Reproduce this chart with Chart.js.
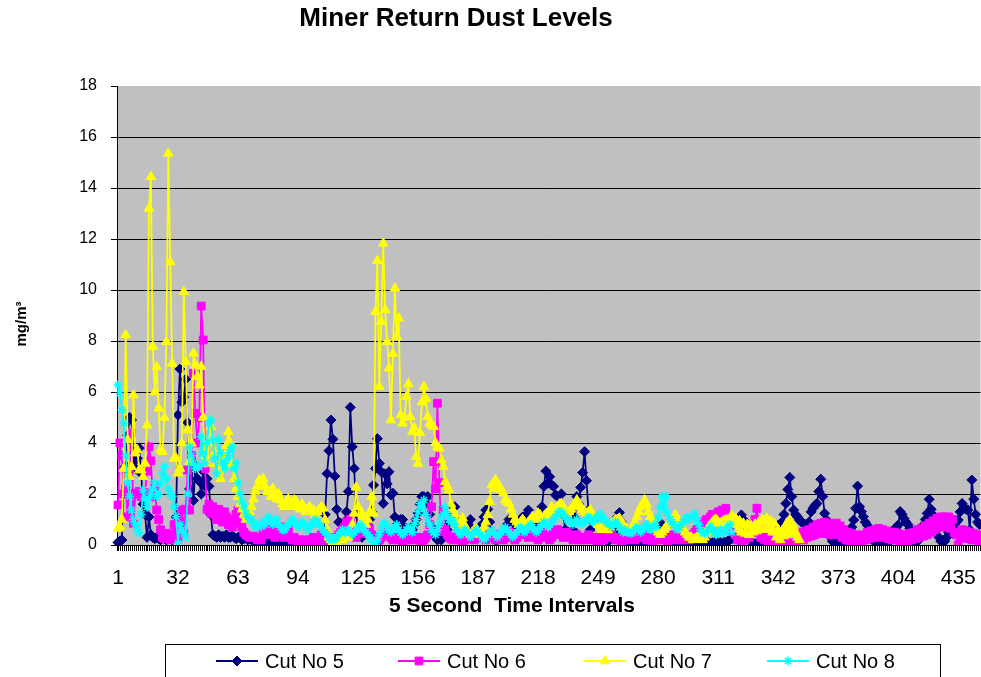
<!DOCTYPE html>
<html><head><meta charset="utf-8">
<script src="https://cdn.jsdelivr.net/npm/chart.js@4.4.1/dist/chart.umd.min.js"></script>
<style>html,body{margin:0;padding:0;background:#fff;overflow:hidden}#wrap{width:981px;height:677px;position:relative;overflow:hidden}</style>
</head><body><div id="wrap"><canvas id="c" width="987" height="677"></canvas></div>
<script>
const chartTitle = 'Miner Return Dust Levels';
const xAxisTitle = '5 Second  Time Intervals';
const yAxisTitle = 'mg/m³';
const seriesNames = ['Cut No 5', 'Cut No 6', 'Cut No 7', 'Cut No 8'];
const categoryCount = 446;
const xTickLabels = [1, 32, 63, 94, 125, 156, 187, 218, 249, 280, 311, 342, 373, 404, 435];
const yTickValues = [0, 2, 4, 6, 8, 10, 12, 14, 16, 18];

const cut5 = [
0.1,0.15,0.2,3.0,3.1,4.3,5.0,4.9,3.3,3.0,
3.4,3.8,2.8,1.6,1.2,0.3,1.1,0.4,0.3,0.25,
0.3,0.25,0.2,0.3,0.25,0.2,0.3,0.25,0.2,0.3,
1.1,5.1,6.9,5.6,5.8,6.5,4.8,2.2,3.2,1.75,
3.1,2.6,2.5,2.0,2.9,2.3,2.6,2.3,1.2,0.4,
0.35,0.3,0.4,0.3,0.35,0.3,0.4,0.3,0.3,0.35,
0.3,0.25,0.3,0.3,0.2,0.25,0.3,0.2,0.25,0.2,
0.2,0.15,0.2,0.15,0.15,0.2,0.1,0.15,0.1,0.1,
0.1,0.05,0.1,0.1,0.05,0.1,0.1,0.05,0.1,0.1,
0.1,0.05,0.1,0.1,0.05,0.1,0.1,0.15,0.1,0.1,
0.1,0.15,0.2,0.1,0.15,0.2,0.3,1.2,2.8,3.7,
4.9,4.15,2.7,1.4,0.9,0.85,0.6,0.9,1.3,2.1,
5.4,3.85,3.0,1.25,0.5,0.4,0.3,0.5,0.6,0.8,
1.0,1.3,2.35,3.0,4.17,3.2,2.87,1.63,2.78,2.4,
2.87,1.96,2.03,1.1,0.8,0.6,1.0,1.0,0.7,0.5,
0.4,0.5,0.6,0.8,1.0,1.25,1.6,1.9,1.9,1.63,
1.9,1.2,0.7,0.4,0.3,0.2,0.3,0.2,0.3,0.4,
0.6,0.9,1.2,1.5,1.5,1.0,0.6,0.4,0.3,0.4,
0.6,0.8,1.0,0.6,0.4,0.3,0.3,0.5,0.8,1.1,
1.37,1.4,0.9,0.5,0.3,0.2,0.2,0.3,0.4,0.5,
0.6,0.8,1.0,1.05,0.95,0.9,0.7,0.78,1.0,1.1,
0.95,1.2,1.37,1.0,0.6,0.4,0.5,0.8,1.2,1.5,
2.3,2.9,2.42,2.68,2.35,2.3,1.96,1.9,1.5,2.0,
1.2,0.6,0.4,0.5,0.4,0.6,1.05,1.9,1.6,2.26,
2.84,3.66,2.52,1.37,0.6,0.3,0.2,0.2,0.15,0.2,
0.2,0.25,0.2,0.15,0.2,0.3,0.5,0.8,1.1,1.27,
0.9,0.5,0.3,0.2,0.15,0.1,0.15,0.1,0.1,0.15,
0.1,0.15,0.1,0.1,0.15,0.2,0.15,0.2,0.3,0.5,
0.6,0.8,0.4,0.2,0.1,0.1,0.05,0.1,0.05,0.1,
0.1,0.05,0.1,0.1,0.05,0.1,0.1,0.05,0.1,0.1,
0.05,0.1,0.1,0.05,0.1,0.1,0.05,0.1,0.1,0.05,
0.1,0.1,0.05,0.1,0.1,0.15,0.2,0.25,0.3,0.4,
0.6,0.9,1.18,1.0,0.7,0.4,0.2,0.1,0.05,0.05,
0.05,0.1,0.05,0.1,0.1,0.15,0.1,0.15,0.2,0.3,
0.5,0.78,0.8,0.9,1.2,1.63,2.18,2.65,1.9,1.37,
1.2,1.1,0.98,0.9,0.85,0.8,0.72,0.9,1.3,1.44,
1.55,1.63,2.1,2.58,1.9,1.24,0.98,0.6,0.3,0.15,
0.1,0.1,0.1,0.15,0.1,0.15,0.2,0.3,0.5,0.7,
0.98,1.44,2.31,1.5,1.31,1.11,0.9,0.78,0.65,0.4,
0.2,0.1,0.05,0.05,0.1,0.05,0.1,0.07,0.1,0.2,
0.4,0.6,0.7,0.78,1.31,1.2,1.04,0.9,0.8,0.65,
0.4,0.2,0.1,0.15,0.3,0.5,0.78,1.0,1.24,1.79,
1.4,1.18,0.9,0.6,0.3,0.15,0.1,0.15,0.3,0.5,
0.6,0.7,0.8,0.9,0.98,1.3,1.63,1.5,1.4,1.37,
0.6,2.55,1.8,1.2,0.9,0.8
];

const cut6 = [
1.57,4.0,3.5,2.0,2.2,1.1,3.0,4.4,0.85,2.03,
2.0,2.1,1.9,2.0,2.05,2.9,3.85,3.3,1.9,2.3,
1.37,1.0,0.6,0.3,0.25,0.46,0.3,0.2,0.4,0.8,
0.5,0.3,0.9,1.37,0.46,1.4,2.94,1.37,3.5,6.73,
5.16,4.0,5.0,9.37,8.04,3.0,1.4,1.6,1.25,1.5,
1.2,1.0,1.4,1.2,0.9,1.3,1.1,0.8,1.0,0.7,
0.9,1.2,1.37,0.86,0.7,0.5,0.4,0.35,0.3,0.3,
0.35,0.3,0.2,0.25,0.2,0.5,0.7,0.4,0.6,0.8,
0.5,0.3,0.6,0.4,0.7,0.5,0.3,0.4,0.6,0.3,
0.2,0.3,0.2,0.15,0.2,0.1,0.2,0.15,0.1,0.2,
0.2,0.3,0.2,0.1,0.3,0.4,0.3,0.2,0.1,0.2,
0.3,0.2,0.15,0.3,0.4,0.5,0.6,0.7,0.9,0.85,
1.0,0.6,0.4,0.3,0.5,0.46,0.5,0.6,0.7,0.72,
0.6,0.4,0.3,0.2,0.1,0.2,0.3,0.4,0.5,0.46,
0.4,0.3,0.2,0.3,0.4,0.3,0.2,0.1,0.2,0.3,
0.2,0.3,0.4,0.3,0.2,0.3,0.2,0.1,0.2,0.3,
0.4,0.8,1.5,3.27,2.2,5.56,2.45,0.52,1.37,0.6,
0.4,0.3,0.25,0.2,0.3,0.35,0.3,0.2,0.15,0.2,
0.3,0.4,0.3,0.25,0.2,0.3,0.4,0.5,0.4,0.3,
0.2,0.3,0.4,0.35,0.3,0.2,0.3,0.4,0.3,0.2,
0.3,0.4,0.5,0.4,0.3,0.2,0.3,0.4,0.5,0.6,
0.5,0.4,0.3,0.4,0.5,0.4,0.3,0.2,0.3,0.4,
0.5,0.4,0.3,0.2,0.3,0.4,0.5,0.6,0.5,0.4,
0.3,0.4,0.5,0.4,0.3,0.2,0.3,0.4,0.3,0.2,
0.3,0.2,0.3,0.4,0.3,0.2,0.3,0.2,0.1,0.2,
0.3,0.2,0.3,0.4,0.5,0.4,0.3,0.2,0.3,0.2,
0.1,0.2,0.3,0.2,0.3,0.4,0.3,0.2,0.3,0.4,
0.5,0.4,0.3,0.2,0.3,0.2,0.1,0.2,0.3,0.2,
0.3,0.4,0.3,0.2,0.1,0.2,0.3,0.4,0.3,0.2,
0.3,0.2,0.3,0.4,0.3,0.2,0.3,0.4,0.5,0.6,
0.6,0.7,0.8,0.9,1.0,0.9,1.1,1.2,1.0,1.2,
1.3,1.2,1.37,1.3,1.44,1.1,0.8,0.6,0.5,0.4,
0.2,0.5,0.1,0.4,0.2,0.6,0.3,0.7,0.5,1.0,
1.44,0.7,0.3,0.6,0.2,0.5,0.1,0.4,0.1,0.3,
0.05,0.3,0.1,0.35,0.05,0.3,0.1,0.4,0.15,0.3,
0.1,0.4,0.2,0.5,0.2,0.55,0.3,0.6,0.35,0.7,
0.4,0.8,0.5,0.85,0.45,0.9,0.5,0.85,0.4,0.8,
0.5,0.86,0.4,0.75,0.3,0.6,0.2,0.5,0.15,0.45,
0.1,0.4,0.1,0.35,0.15,0.4,0.2,0.5,0.25,0.55,
0.3,0.6,0.3,0.65,0.35,0.6,0.3,0.55,0.25,0.5,
0.2,0.5,0.2,0.45,0.15,0.4,0.1,0.4,0.15,0.45,
0.2,0.5,0.25,0.6,0.3,0.65,0.35,0.75,0.4,0.85,
0.5,0.95,0.6,1.05,0.7,1.1,0.75,1.1,0.7,1.1,
0.65,1.0,0.5,0.4,0.0,0.3,0.6,0.3,0.55,0.25,
0.5,0.2,0.45,0.2,0.4,0.15
];

const cut7 = [
0.65,0.72,1.0,3.0,8.24,4.12,2.68,3.07,5.88,3.6,
3.73,2.94,2.94,2.68,3.2,4.7,13.2,14.44,7.78,6.0,
6.99,5.36,3.73,3.66,5.0,7.97,15.36,11.1,7.12,3.4,
3.4,2.81,3.0,4.0,9.93,7.19,4.51,3.27,3.99,7.52,
7.06,6.6,6.27,7.0,5.0,3.5,3.2,4.0,4.64,4.1,
3.6,3.2,2.9,2.6,3.0,3.5,3.9,4.44,4.0,3.2,
2.6,2.2,1.9,1.6,1.4,1.2,1.0,1.1,1.3,1.5,
1.8,2.1,2.3,2.55,2.48,2.6,2.3,2.1,2.09,1.9,
2.22,1.9,1.8,2.0,1.76,1.6,1.5,1.7,1.8,1.6,
1.5,1.76,1.7,1.5,1.4,1.6,1.5,1.3,1.4,1.5,
1.3,1.37,1.2,1.3,1.4,1.5,1.44,0.98,0.6,0.3,
0.2,0.1,0.2,0.1,0.2,0.3,0.2,0.3,0.4,0.3,
0.5,0.8,1.24,2.26,1.5,0.72,1.24,1.0,0.8,1.0,
1.3,1.9,1.24,9.15,11.15,6.21,8.76,11.83,9.22,7.97,
6.93,4.9,7.5,10.07,8.17,8.89,5.1,4.77,5.0,5.82,
6.31,5.03,4.44,4.6,3.46,3.2,4.4,5.6,6.21,5.75,
5.03,4.77,4.7,4.64,4.0,3.85,3.79,3.33,3.07,2.48,
2.3,2.16,1.6,1.37,1.2,0.9,0.7,0.9,1.05,0.78,
0.6,0.5,0.4,0.5,0.6,0.65,0.5,0.4,0.5,0.7,
0.9,1.18,1.7,2.35,2.2,2.55,2.42,2.3,2.16,2.03,
1.76,1.7,1.63,1.4,1.2,1.0,0.9,0.8,0.9,1.0,
0.9,0.8,0.9,1.0,1.1,1.0,1.1,1.24,1.18,1.0,
1.1,1.2,1.24,1.3,1.5,1.4,1.3,1.5,1.6,1.63,
1.5,1.3,1.2,1.3,1.4,1.5,1.63,1.76,1.63,1.5,
1.4,1.3,1.24,1.3,1.37,1.2,1.0,0.9,0.8,0.7,
0.6,0.7,0.6,0.59,0.7,0.8,0.9,1.0,1.0,1.05,
0.9,0.8,0.7,0.6,0.5,0.6,0.7,0.9,1.1,1.3,
1.5,1.57,1.76,1.6,1.3,1.1,0.9,0.7,0.6,0.5,
0.4,0.5,0.6,0.7,0.8,0.9,1.0,1.1,1.18,1.0,
0.85,0.7,0.6,0.5,0.4,0.3,0.3,0.2,0.25,0.3,
0.33,0.25,0.2,0.3,0.5,0.7,0.8,0.9,0.98,1.0,
0.9,0.85,0.9,0.95,0.98,0.98,0.9,1.17,0.8,1.05,
0.6,0.95,0.5,0.85,0.45,0.8,0.4,0.75,0.5,0.8,
0.55,0.9,0.6,1.0,0.65,1.05,0.6,0.95,0.5,0.85,
0.3,0.6,0.2,0.55,0.35,0.8,0.5,0.98,0.4,0.72,
0.5,0.3,0.2
];

const cut8 = [
6.27,5.95,5.3,4.77,3.5,2.42,1.9,1.37,1.0,0.8,
0.6,0.46,1.2,2.16,1.8,1.5,1.8,2.0,2.2,2.42,
1.9,2.0,2.4,2.8,3.07,2.6,2.2,2.0,1.9,1.5,
1.11,0.07,0.8,0.6,0.46,0.3,2.0,3.85,3.5,3.2,
3.0,3.07,3.07,4.25,3.6,3.2,4.0,4.77,4.9,4.12,
3.4,2.81,4.12,3.6,3.2,3.0,3.3,3.5,3.73,3.85,
3.0,3.2,2.42,2.0,1.7,1.5,1.24,1.1,1.0,0.98,
0.85,0.72,0.7,0.8,0.72,0.9,0.8,1.0,1.1,0.9,
0.8,0.9,1.0,0.8,0.7,0.6,0.59,0.7,0.8,0.9,
1.0,0.9,0.8,0.7,0.8,0.9,0.8,0.7,0.6,0.7,
0.8,0.9,1.0,0.9,0.8,0.7,0.6,0.5,0.4,0.3,
0.2,0.3,0.2,0.3,0.4,0.5,0.6,0.5,0.5,0.6,
0.5,0.4,0.5,0.6,0.7,0.8,0.7,0.6,0.5,0.4,
0.3,0.2,0.1,0.0,0.2,0.4,0.6,0.8,0.86,0.7,
0.6,0.5,0.6,0.7,0.8,0.6,0.5,0.4,0.5,0.6,
0.7,0.6,0.5,0.8,1.0,1.3,1.63,1.5,1.76,1.2,
1.0,0.8,0.6,0.5,0.4,0.6,0.8,1.0,1.2,1.5,
1.2,1.0,0.9,0.98,0.8,0.6,0.5,0.4,0.5,0.6,
0.5,0.4,0.3,0.4,0.5,0.6,0.5,0.4,0.3,0.2,
0.3,0.4,0.5,0.6,0.5,0.4,0.3,0.4,0.5,0.6,
0.7,0.6,0.5,0.4,0.3,0.4,0.5,0.6,0.7,0.6,
0.5,0.6,0.7,0.8,0.7,0.6,0.5,0.6,0.7,0.8,
0.9,0.8,0.7,0.8,0.9,1.0,1.1,1.2,1.3,1.31,
1.2,1.1,1.0,0.98,0.9,0.8,0.9,1.0,0.9,0.85,
0.85,0.9,1.0,1.1,1.0,0.9,1.0,1.1,1.0,1.24,
1.1,1.0,0.9,0.85,0.8,0.7,0.8,0.9,0.8,0.7,
0.6,0.5,0.6,0.5,0.5,0.46,0.5,0.6,0.7,0.6,
0.5,0.6,0.7,0.8,0.7,0.6,0.7,0.8,0.72,1.1,
1.5,1.9,1.37,1.9,1.24,1.0,0.9,0.8,0.7,0.6,
0.7,0.8,0.9,1.0,1.1,1.0,1.1,1.11,1.24,1.0,
0.8,0.6,0.5,0.46,0.5,0.6,0.72,0.6,0.5,0.4,
0.5,0.6,0.46,0.5,0.6,0.7,0.8,0.5
];

const categories = Array.from({length: categoryCount}, (_, i) => String(i + 1));
const FONT = "'Liberation Sans', Arial, sans-serif";

const seriesStyles = [
  {color: '#000080', pointStyle: 'rectRot', radius: 5, pbw: 1, order: 4},
  {color: '#FF00FF', pointStyle: 'rect', radius: 5.5, pbw: 1, order: 3},
  {color: '#FFFF00', pointStyle: 'triangle', radius: 5.5, pbw: 1, order: 2},
  {color: '#00FFFF', pointStyle: 'star', radius: 4.5, pbw: 1.5, order: 1}
];
const seriesData = [cut5, cut6, cut7, cut8];

const PLOT = {left: 117, top: 86, bottom: 545};

const decorPlugin = {
  id: 'decor',
  beforeDraw(chart) {
    const {ctx, chartArea: a} = chart;
    ctx.save();
    ctx.fillStyle = '#C0C0C0';
    ctx.fillRect(a.left, a.top, a.right - a.left, a.bottom - a.top);
    ctx.restore();
  },
  afterDraw(chart) {
    const ctx = chart.ctx;
    ctx.save();
    ctx.fillStyle = '#000';
    ctx.textAlign = 'center';
    ctx.textBaseline = 'middle';
    ctx.font = "bold 26px " + FONT;
    ctx.fillText(chartTitle, 456, 19);
    ctx.font = "bold 21px " + FONT;
    ctx.fillText(xAxisTitle, 512, 606);
    ctx.save();
    ctx.translate(22, 324);
    ctx.rotate(-Math.PI / 2);
    ctx.font = "bold 15px " + FONT;
    ctx.fillText(yAxisTitle, 0, 0);
    ctx.restore();
    // legend
    ctx.strokeStyle = '#000';
    ctx.lineWidth = 1;
    ctx.strokeRect(165.5, 644.5, 775, 60);
    const itemX = [216, 398, 584, 767];
    const ly = 661;
    ctx.textAlign = 'left';
    ctx.font = "20px " + FONT;
    chart.data.datasets.forEach((ds, i) => {
      const st = seriesStyles[i];
      const x0 = itemX[i];
      ctx.strokeStyle = st.color;
      ctx.lineWidth = 2;
      ctx.beginPath();
      ctx.moveTo(x0, ly); ctx.lineTo(x0 + 42, ly); ctx.stroke();
      ctx.fillStyle = st.color;
      ctx.strokeStyle = st.color;
      ctx.lineWidth = st.pbw;
      Chart.helpers.drawPoint(ctx, {pointStyle: st.pointStyle, radius: st.radius, rotation: 0, borderWidth: st.pbw}, x0 + 21, ly);
      ctx.fillStyle = '#000';
      ctx.fillText(ds.label, x0 + 49, ly + 1);
    });
    ctx.restore();
  }
};

new Chart(document.getElementById('c'), {
  type: 'line',
  data: {
    labels: categories,
    datasets: seriesData.map((d, i) => ({
      label: seriesNames[i],
      data: d,
      borderColor: seriesStyles[i].color,
      backgroundColor: seriesStyles[i].color,
      pointBackgroundColor: seriesStyles[i].color,
      pointBorderColor: seriesStyles[i].color,
      pointStyle: seriesStyles[i].pointStyle,
      pointRadius: seriesStyles[i].radius,
      pointBorderWidth: seriesStyles[i].pbw,
      borderWidth: 1.75,
      tension: 0,
      fill: false,
      order: seriesStyles[i].order
    }))
  },
  options: {
    responsive: false,
    devicePixelRatio: 1,
    animation: false,
    events: [],
    layout: {padding: {left: 0, right: 0, top: PLOT.top, bottom: 0}},
    plugins: {legend: {display: false}, tooltip: {enabled: false}, title: {display: false}},
    scales: {
      x: {
        type: 'category',
        offset: true,
        afterFit(s) { s.height = 677 - PLOT.bottom; s.paddingLeft = 0; s.paddingRight = 0; },
        grid: {display: true, drawOnChartArea: false, drawTicks: true, tickLength: 6, color: '#000', lineWidth: 1, offset: true},
        border: {display: true, color: '#000', width: 1},
        ticks: {
          autoSkip: false, maxRotation: 0, minRotation: 0, padding: 15,
          color: '#000', font: {family: FONT, size: 21},
          callback(value, index) {
            const lab = Number(this.getLabelForValue(value));
            return xTickLabels.includes(lab) ? String(lab) : '';
          }
        }
      },
      y: {
        min: 0, max: 18,
        afterFit(s) { s.width = PLOT.left; },
        afterBuildTicks(s) { s.ticks = yTickValues.map(v => ({value: v})); },
        grid: {
          color: (c) => (c.tick && c.tick.value === 18) ? 'rgba(0,0,0,0)' : '#000',
          tickColor: '#000', tickLength: 6, lineWidth: 1, drawTicks: true
        },
        border: {display: true, color: '#000', width: 1},
        ticks: {padding: 14, color: '#000', font: {family: FONT, size: 16}}
      }
    }
  },
  plugins: [decorPlugin]
});
</script>
</body></html>
